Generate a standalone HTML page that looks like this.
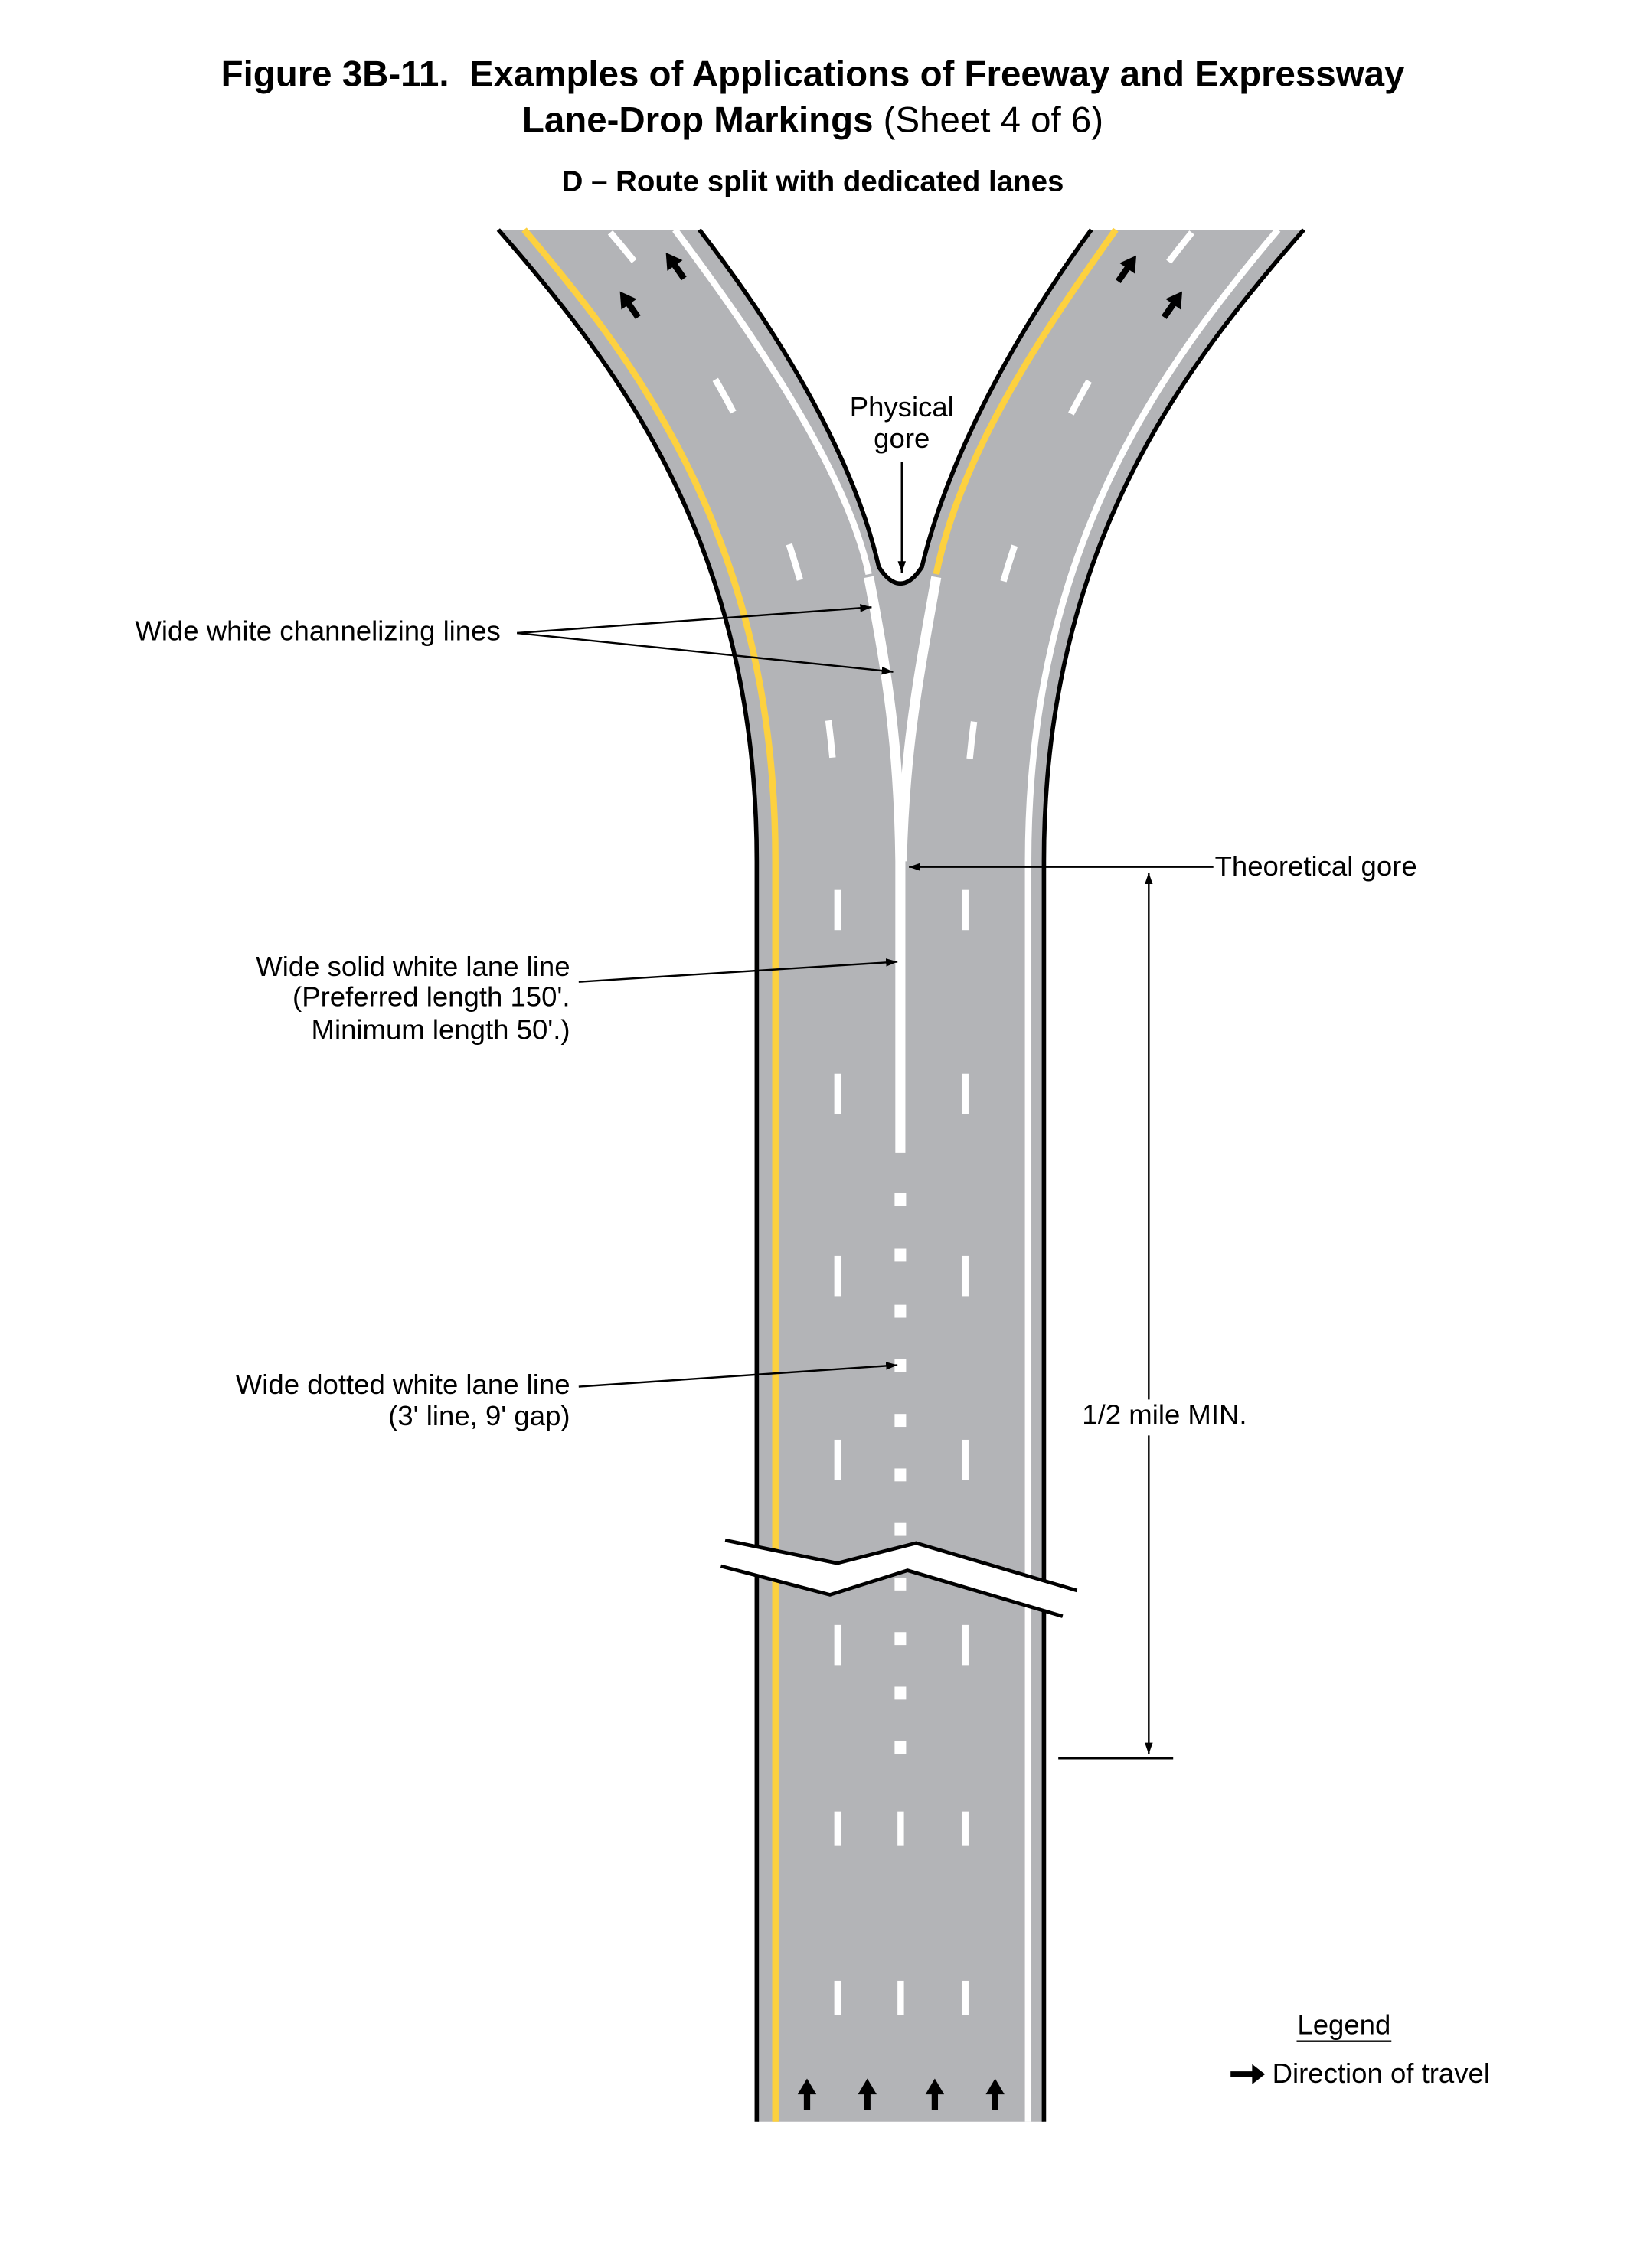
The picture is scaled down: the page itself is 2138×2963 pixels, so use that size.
<!DOCTYPE html>
<html><head><meta charset="utf-8"><style>
html,body{margin:0;padding:0;background:#fff}
svg{display:block}
text{font-family:"Liberation Sans",Arial,sans-serif;fill:#000}
</style></head><body>
<svg width="2138" height="2963" viewBox="0 0 1140 1580" xmlns="http://www.w3.org/2000/svg">
<defs>
<marker id="ah" viewBox="0 0 10 10" refX="10" refY="5" markerWidth="8" markerHeight="8" markerUnits="userSpaceOnUse" orient="auto"><path d="M0,1.5 L10,5 L0,8.5 Z" fill="#000"/></marker>
<g id="arr"><path d="M-2.2,11 L-2.2,0 L-6.5,0 L0,-11 L6.5,0 L2.2,0 L2.2,11 Z" fill="#000"/></g>
</defs>
<rect width="1140" height="1580" fill="#fff"/>
<text x="566" y="60" font-size="25.3" font-weight="bold" text-anchor="middle" xml:space="preserve">Figure 3B-11.  Examples of Applications of Freeway and Expressway</text>
<text x="566" y="92" font-size="25.3" text-anchor="middle"><tspan font-weight="bold">Lane-Drop Markings</tspan> (Sheet 4 of 6)</text>
<text x="566" y="133" font-size="20.5" font-weight="bold" text-anchor="middle">D – Route split with dedicated lanes</text>

<path d="M347,160 C430,255 527,380 527,600 L527,1478 L727,1478 L727,600 C727,380 825,255 908,160 L760,160 C705,235 660,320 642,395 Q627,418 612,395 C595,320 545,235 487,160 Z" fill="#b3b4b7"/>
<g fill="none" stroke="#000" stroke-width="3">
<path d="M347,160 C430,255 527,380 527,600 L527,1478"/>
<path d="M908,160 C825,255 727,380 727,600 L727,1478"/>
<path d="M487,160 C545,235 595,320 612,395 Q627,418 642,395 C660,320 705,235 760,160"/>
</g>
<g fill="none" stroke="#fdd13f" stroke-width="4.5">
<path d="M365,160 C446,255 540,380 540,600 L540,1478"/>
<path d="M777,160 C720,240 668,320 652,400"/>
</g>
<g fill="none" stroke="#fff" stroke-width="4.5">
<path d="M470,160 C530,240 590,330 605,400"/>
<path d="M890,160 C810,255 716,380 716,600 L716,1478"/>
</g>
<g fill="none" stroke="#fff" stroke-width="7">
<path d="M605,402 C618,470 626,520 627,600 L627,803"/>
<path d="M652,402 C640,470 630,520 628,600"/>
</g>
<g fill="none" stroke="#fff" stroke-width="4.5" stroke-dasharray="26,100">
<path d="M425,162 C505,255 583,390 583,600"/>
<path d="M830,162 C755,255 672,390 672,600"/>
</g>
<g fill="#fff">
<rect x="581" y="620" width="4.5" height="28"/><rect x="670" y="620" width="4.5" height="28"/>
<rect x="581" y="748" width="4.5" height="28"/><rect x="670" y="748" width="4.5" height="28"/>
<rect x="581" y="875" width="4.5" height="28"/><rect x="670" y="875" width="4.5" height="28"/>
<rect x="581" y="1003" width="4.5" height="28"/><rect x="670" y="1003" width="4.5" height="28"/>
<rect x="581" y="1132" width="4.5" height="28"/><rect x="670" y="1132" width="4.5" height="28"/>
<rect x="581" y="1262" width="4.5" height="24"/><rect x="625" y="1262" width="4.5" height="24"/><rect x="670" y="1262" width="4.5" height="24"/>
<rect x="581" y="1380" width="4.5" height="24"/><rect x="625" y="1380" width="4.5" height="24"/><rect x="670" y="1380" width="4.5" height="24"/>
<rect x="623" y="831" width="8" height="9"/><rect x="623" y="870" width="8" height="9"/>
<rect x="623" y="909" width="8" height="9"/><rect x="623" y="947" width="8" height="9"/>
<rect x="623" y="985" width="8" height="9"/><rect x="623" y="1023" width="8" height="9"/>
<rect x="623" y="1061" width="8" height="9"/><rect x="623" y="1099" width="8" height="9"/>
<rect x="623" y="1137" width="8" height="9"/><rect x="623" y="1175" width="8" height="9"/>
<rect x="623" y="1213" width="8" height="9"/>
</g>
<path d="M505,1073 L583,1089 L638,1075 L750,1108 L740,1126 L632,1094 L578,1111 L502,1091 Z" fill="#fff"/>
<g fill="none" stroke="#000" stroke-width="2.5">
<path d="M505,1073 L583,1089 L638,1075 L750,1108"/>
<path d="M502,1091 L578,1111 L632,1094 L740,1126"/>
</g>
<use href="#arr" transform="translate(438,212) rotate(-35)"/>
<use href="#arr" transform="translate(470,185) rotate(-35)"/>
<use href="#arr" transform="translate(785,187) rotate(35)"/>
<use href="#arr" transform="translate(817,212) rotate(35)"/>
<use href="#arr" transform="translate(562,1459)"/>
<use href="#arr" transform="translate(604,1459)"/>
<use href="#arr" transform="translate(651,1459)"/>
<use href="#arr" transform="translate(693,1459)"/>

<g fill="none" stroke="#000" stroke-width="1.3">
<path d="M628,322 L628,399" marker-end="url(#ah)"/>
<path d="M360,441 L607,423" marker-end="url(#ah)"/>
<path d="M360,441 L622,468" marker-end="url(#ah)"/>
<path d="M845,604 L633,604" marker-end="url(#ah)"/>
<path d="M403,684 L625,670" marker-end="url(#ah)"/>
<path d="M403,966 L625,951" marker-end="url(#ah)"/>
<path d="M800,975 L800,608" marker-end="url(#ah)"/>
<path d="M800,1000 L800,1222" marker-end="url(#ah)"/>
<path d="M737,1225 L817,1225"/>
<path d="M903,1422 L969,1422"/>
</g>
<path d="M857,1443 L872,1443 L872,1438 L881,1445 L872,1452 L872,1447 L857,1447 Z" fill="#000"/>

<g font-size="19.5">
<text x="628" y="290" text-anchor="middle">Physical</text>
<text x="628" y="312" text-anchor="middle">gore</text>
<text x="94" y="446">Wide white channelizing lines</text>
<text x="846" y="610">Theoretical gore</text>
<text x="397" y="680" text-anchor="end">Wide solid white lane line</text>
<text x="397" y="701" text-anchor="end">(Preferred length 150'.</text>
<text x="397" y="724" text-anchor="end">Minimum length 50'.)</text>
<text x="397" y="971" text-anchor="end">Wide dotted white lane line</text>
<text x="397" y="993" text-anchor="end">(3' line, 9' gap)</text>
<text x="811" y="992" text-anchor="middle">1/2 mile MIN.</text>
<text x="936" y="1417" text-anchor="middle">Legend</text>
<text x="886" y="1451">Direction of travel</text>
</g>
</svg>
</body></html>
